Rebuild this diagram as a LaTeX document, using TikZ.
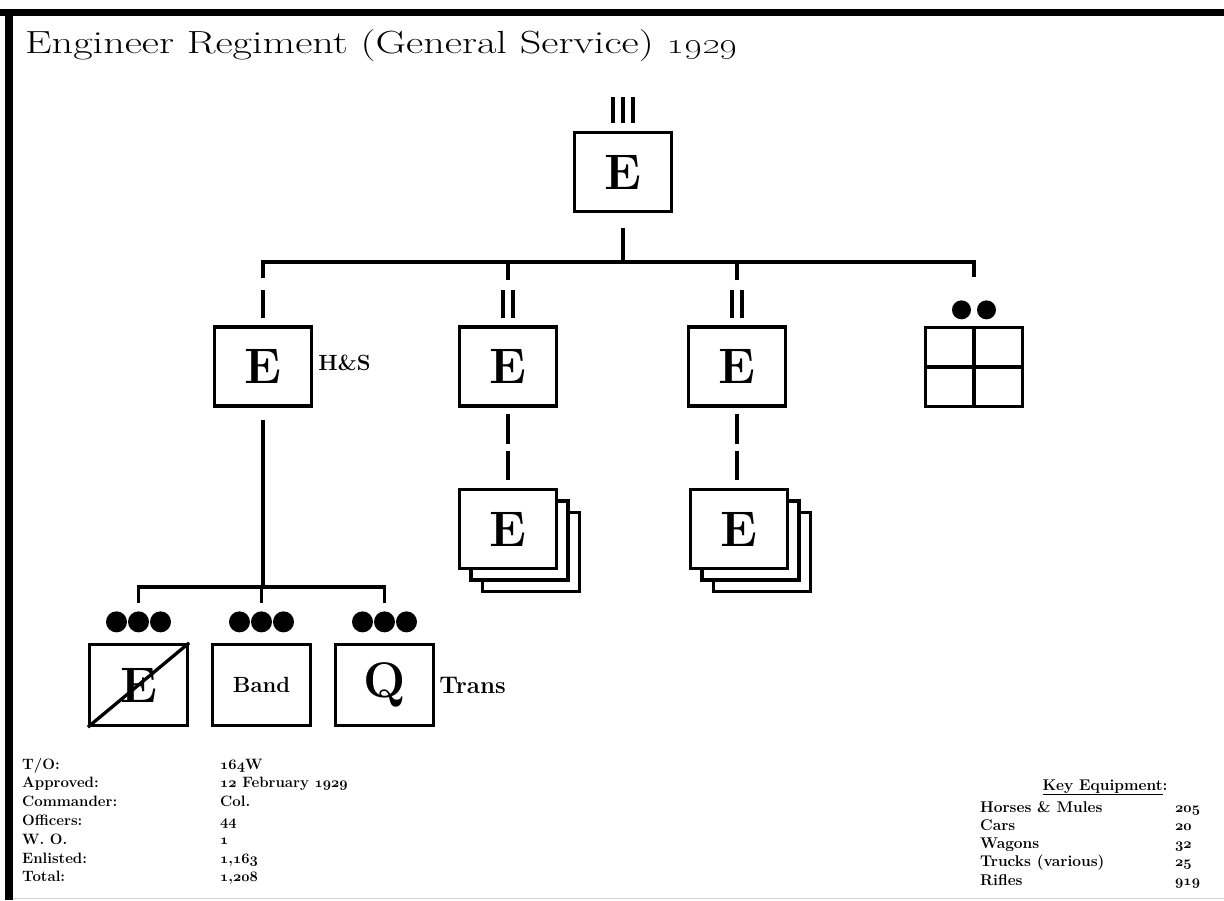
\documentclass[tikz,border=0pt]{standalone}
\usepackage{tikz}
\usetikzlibrary{positioning, calc}
\newcommand\osnum[1]{{\usefont{OML}{cmm}{b}{it}#1}}

\begin{document}
\begin{tikzpicture}[x=1pt, y=-1pt,
  unit/.style={draw, line width=3.3pt, fill=white, minimum width=97pt, minimum height=79pt, inner sep=0pt, font=\fontsize{50}{50}\selectfont\bfseries},
  link/.style={line width=3.3pt},
  ech/.style={line width=3.5pt},
  note/.style={font=\fontsize{24}{24}\selectfont\bfseries, inner sep=0pt},
  data/.style={font=\fontsize{15}{18.8}\selectfont\bfseries, inner sep=0pt, align=left},
]
  \useasboundingbox (0,0) rectangle (1224,900);

  % frame
  \draw[line width=7pt] (0,12.5) -- (1224,12.5);
  \draw[line width=8pt] (9,9) -- (9,900);
  \draw[gray!35, line width=1pt] (13,898) -- (1224,898);

  % title
  \node[anchor=base west, inner sep=0pt, font=\fontsize{32}{32}\selectfont] (title) at (25,53) {\scalebox{1.32}[1]{Engineer Regiment (General Service) \oldstylenums{1929}}};

  % Regiment
  \node[unit] (reg) at (623,172) {E};

  % Row 2 - H&S, battalions, supply
  \node[unit] (hs) at (263,366.5) {E};
  \node[unit] (bn1) at (508,366.5) {E};
  \node[unit] (bn2) at (737,366.5) {E};
  \node[unit] (sup) at (974,367) {};
  \draw[link] (sup.north) -- (sup.south) (sup.west) -- (sup.east);

  % Row 3 - companies
  \node[unit] (co1c) at (531,552) {};
  \node[unit] (co1b) at (519.5,540.5) {};
  \node[unit] (co1) at (508,529) {E};
  \node[unit] (co2c) at (762,552) {};
  \node[unit] (co2b) at (750.5,540.5) {};
  \node[unit] (co2) at (739,529) {E};

  % Row 4 - H&S elements
  \node[unit, minimum width=98pt, minimum height=81pt] (eng) at (138.5,685) {E};
  \draw[link] (eng.south west) -- (eng.north east);
  \node[unit, minimum width=98pt, minimum height=81pt, font=\fontsize{22}{22}\selectfont\bfseries] (band) at (261.5,685) {Band};
  \node[unit, minimum width=98pt, minimum height=81pt] (qm) at (384.5,685) {Q};

  % Labels
  \node[note, font=\fontsize{22}{22}\selectfont\bfseries, anchor=west] (hslbl) at ([xshift=5pt, yshift=4pt]hs.east) {H\&S};
  \node[note, anchor=west] (trans) at ([xshift=4pt]qm.east) {Trans};

  % Echelon marks
  \draw[ech] ([xshift=-10pt, yshift=8pt]reg.north) -- ++(0,-26);
  \draw[ech] ([yshift=8pt]reg.north) -- ++(0,-26);
  \draw[ech] ([xshift=10pt, yshift=8pt]reg.north) -- ++(0,-26);
  \draw[ech] ([yshift=7pt]hs.north) -- ++(0,-28);
  \draw[ech] ([xshift=-5pt, yshift=7pt]bn1.north) -- ++(0,-28);
  \draw[ech] ([xshift=5pt, yshift=7pt]bn1.north) -- ++(0,-28);
  \draw[ech] ([xshift=-5pt, yshift=7pt]bn2.north) -- ++(0,-28);
  \draw[ech] ([xshift=5pt, yshift=7pt]bn2.north) -- ++(0,-28);
  \fill ([xshift=-12.5pt, yshift=16pt]sup.north) circle (9.5pt);
  \fill ([xshift=12.5pt, yshift=16pt]sup.north) circle (9.5pt);
  \fill ([xshift=-22pt, yshift=21pt]eng.north) circle (10.5pt);
  \fill ([yshift=21pt]eng.north) circle (10.5pt);
  \fill ([xshift=22pt, yshift=21pt]eng.north) circle (10.5pt);
  \fill ([xshift=-22pt, yshift=21pt]band.north) circle (10.5pt);
  \fill ([yshift=21pt]band.north) circle (10.5pt);
  \fill ([xshift=22pt, yshift=21pt]band.north) circle (10.5pt);
  \fill ([xshift=-22pt, yshift=21pt]qm.north) circle (10.5pt);
  \fill ([yshift=21pt]qm.north) circle (10.5pt);
  \fill ([xshift=22pt, yshift=21pt]qm.north) circle (10.5pt);

  % Connectors
  \coordinate (bus) at (623,262);
  \draw[link] ([yshift=-15pt]reg.south) -- (bus);
  \draw[link] ([yshift=47pt]hs.north) |- (bus) -| ([yshift=49pt]sup.north);
  \draw[link] ([yshift=45pt]bn1.north) -- (bn1.north |- bus);
  \draw[link] ([yshift=45pt]bn2.north) -- (bn2.north |- bus);
  \draw[link, dash pattern=on 30pt off 7pt] ([yshift=-6pt]bn1.south) -- ([yshift=8pt]co1.north);
  \draw[link, dash pattern=on 30pt off 7pt] ([yshift=-6pt]bn2.south) -- ([yshift=8pt]bn2.south |- co2.north);
  \coordinate (hqbus) at (263,587);
  \draw[link] ([yshift=-12pt]hs.south) -- (hqbus);
  \draw[link] ([yshift=40pt]eng.north) |- (hqbus) -| ([yshift=40pt]qm.north);
  \draw[link] ([yshift=40pt]band.north) -- (band.north |- hqbus);

  % Data block
  \node[data, anchor=base west] (info) at (22,769) {\begin{tabular}[t]{@{}p{198pt}@{}l@{}}
    T/O: & \osnum{164}W\\
    Approved: & \osnum{12} February \osnum{1929}\\
    Commander: & Col.\\
    Officers: & \osnum{44}\\
    W. O. & \osnum{1}\\
    Enlisted: & \osnum{1},\osnum{163}\\
    Total: & \osnum{1},\osnum{208}
  \end{tabular}};

  % Key equipment
  \node[data, font=\fontsize{15.5}{18.25}\selectfont\bfseries, anchor=base] (keyhd) at (1105,790) {\underline{Key Equipment}:};
  \node[data, font=\fontsize{15.5}{18.25}\selectfont\bfseries, anchor=base west] (keyeq) at (980,812) {\begin{tabular}[t]{@{}p{195pt}@{}l@{}}
    Horses \& Mules & \osnum{205}\\
    Cars & \osnum{20}\\
    Wagons & \osnum{32}\\
    Trucks (various) & \osnum{25}\\
    Rifles & \osnum{919}
  \end{tabular}};
\end{tikzpicture}
\end{document}
